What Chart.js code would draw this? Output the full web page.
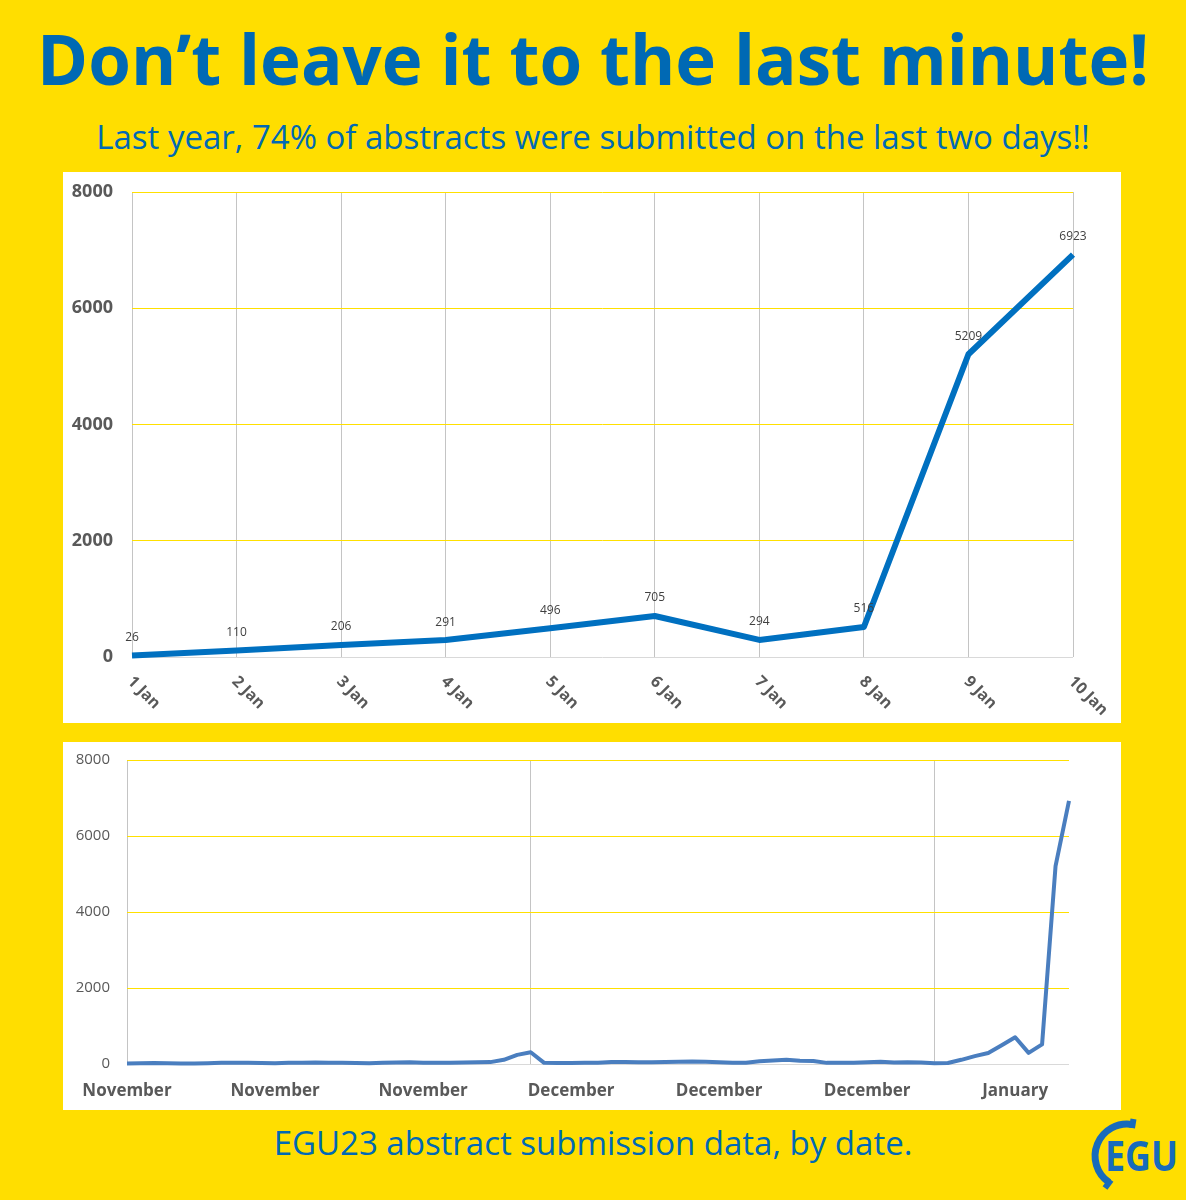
<!DOCTYPE html>
<html>
<head>
<meta charset="utf-8">
<script src="https://cdn.jsdelivr.net/npm/chart.js@4.4.1/dist/chart.umd.min.js"></script>
<style>
  body { margin: 0; width: 1186px; height: 1200px; background: #FFDE00; position: relative; overflow: hidden; font-family: 'Open Sans', sans-serif; }
  .txt { position: absolute; left: 0; width: 1186px; text-align: center; color: #0069B4; line-height: 1; white-space: nowrap; }
  #title { top: 24px; font-size: 69px; font-weight: bold; }
  #subtitle { top: 120px; font-size: 33px; }
  #footer { top: 1126px; font-size: 33px; }
  .panel { position: absolute; left: 63px; width: 1058px; background: #fff; }
  canvas { display: block; }
  #logo { position: absolute; left: 1080px; top: 1110px; }
</style>
</head>
<body>
<div id="title" class="txt">Don’t leave it to the last minute!</div>
<div id="subtitle" class="txt">Last year, 74% of abstracts were submitted on the last two days!!</div>

<div class="panel" style="top:172px; height:551px;"><canvas id="topChart" width="1058" height="551"></canvas></div>
<div class="panel" style="top:742px; height:368px;"><canvas id="bottomChart" width="1058" height="368"></canvas></div>

<div id="footer" class="txt">EGU23 abstract submission data, by date.</div>

<svg id="logo" width="106" height="90" viewBox="0 0 106 90">
  <path d="M52.6 14.5 A32 32 0 0 0 29.1 72.5" fill="none" stroke="#176BBB" stroke-width="7"/>
  <line x1="53.5" y1="9" x2="52" y2="18" stroke="#176BBB" stroke-width="6"/>
  <line x1="25" y1="78" x2="31" y2="70" stroke="#176BBB" stroke-width="6"/>
  <text x="25" y="61" font-family="Open Sans" font-weight="bold" font-size="42" fill="#176BBB" textLength="73" lengthAdjust="spacingAndGlyphs">EGU</text>
</svg>

<script>
// daily abstract submissions, last 10 days before the deadline
const topLabels = ['1 Jan', '2 Jan', '3 Jan', '4 Jan', '5 Jan', '6 Jan', '7 Jan', '8 Jan', '9 Jan', '10 Jan'];
const topValues = [26, 110, 206, 291, 496, 705, 294, 516, 5209, 6923];

// whole submission period, one value per day
const novDaily = [15, 20, 25, 20, 15, 15, 20, 30, 35, 30, 25, 20, 30, 35, 40, 35, 30, 25, 20, 30,
                  40, 45, 35, 30, 35, 40, 45, 50, 110, 240];
const decDaily = [310, 30, 25, 25, 30, 35, 50, 55, 45, 45, 55, 60, 65, 60, 45, 30, 35, 70, 90, 110,
                  85, 80, 30, 30, 35, 45, 60, 40, 45, 40, 20];
const janDaily = topValues;

const yTicks = [0, 2000, 4000, 6000, 8000];
const labelEvery = 11;  // month label every 11 days
const gridEvery = 30;   // vertical line every 30 days

const bottomValues = [...novDaily, ...decDaily, ...janDaily];
const bottomLabels = [
  ...novDaily.map(() => 'November'),
  ...decDaily.map(() => 'December'),
  ...janDaily.map(() => 'January')
];

const grey = '#595959';
const hGrid = c => c.tick && c.tick.value === 0 ? '#d9d9d9' : '#FFE000';

// data labels + slanted day labels for the top chart
const topText = {
  id: 'topText',
  afterDatasetsDraw(chart) {
    const { ctx } = chart;
    const meta = chart.getDatasetMeta(0);
    ctx.save();
    ctx.fillStyle = '#404040';
    ctx.font = '12px "Open Sans"';
    ctx.textAlign = 'center';
    ctx.textBaseline = 'middle';
    meta.data.forEach((pt, i) => ctx.fillText(String(topValues[i]), pt.x, pt.y - 18));
    ctx.restore();
  },
  afterDraw(chart) {
    const { ctx, chartArea } = chart;
    const xs = chart.scales.x;
    ctx.save();
    ctx.fillStyle = grey;
    ctx.font = 'bold 16px "Open Sans"';
    ctx.textAlign = 'left';
    ctx.textBaseline = 'middle';
    topLabels.forEach((lab, i) => {
      ctx.save();
      ctx.translate(xs.getPixelForValue(i) - 2, chartArea.bottom + 22);
      ctx.rotate(Math.PI / 4);
      ctx.fillText(lab, 0, 0);
      ctx.restore();
    });
    ctx.restore();
  }
};

new Chart(document.getElementById('topChart'), {
  type: 'line',
  data: {
    labels: topLabels,
    datasets: [{
      data: topValues,
      borderColor: '#0070C0',
      borderWidth: 6,
      pointRadius: 0,
      tension: 0,
      borderJoinStyle: 'round',
      clip: 10
    }]
  },
  options: {
    responsive: false,
    animation: false,
    layout: { padding: { top: 20, right: 48, left: 0, bottom: 0 } },
    plugins: { legend: { display: false }, tooltip: { enabled: false } },
    scales: {
      x: {
        grid: { color: '#c4c4c4', drawTicks: false },
        border: { display: false },
        ticks: { display: false },
        afterFit: s => { s.height = 66; s.paddingLeft = 0; s.paddingRight = 0; }
      },
      y: {
        min: 0,
        max: 8000,
        afterBuildTicks: s => { s.ticks = yTicks.map(v => ({ value: v })); },
        ticks: { padding: 19, color: grey, font: { family: 'Open Sans', size: 18, weight: 'bold' }, callback: v => String(v) },
        grid: { color: hGrid, drawTicks: false },
        border: { display: false },
        afterFit: s => { s.width = 69; s.paddingTop = 0; s.paddingBottom = 0; }
      }
    }
  },
  plugins: [topText]
});

new Chart(document.getElementById('bottomChart'), {
  type: 'line',
  data: {
    labels: bottomLabels,
    datasets: [{
      data: bottomValues,
      borderColor: '#4A7EBF',
      borderWidth: 4,
      pointRadius: 0,
      tension: 0,
      borderJoinStyle: 'round',
      clip: 8
    }]
  },
  options: {
    responsive: false,
    animation: false,
    layout: { padding: { top: 18, right: 52, left: 0, bottom: 0 } },
    plugins: { legend: { display: false }, tooltip: { enabled: false } },
    scales: {
      x: {
        grid: { color: c => c.index % gridEvery === 0 ? '#c4c4c4' : 'rgba(0,0,0,0)', drawTicks: false },
        border: { display: false },
        ticks: {
          autoSkip: false,
          maxRotation: 0,
          padding: 17,
          color: grey,
          font: { family: 'Open Sans', size: 17, weight: 'bold' },
          callback: (v, i) => i % labelEvery === 0 ? bottomLabels[i] : ''
        },
        afterFit: s => { s.height = 46; s.paddingLeft = 0; s.paddingRight = 0; }
      },
      y: {
        min: 0,
        max: 8000,
        afterBuildTicks: s => { s.ticks = yTicks.map(v => ({ value: v })); },
        ticks: { padding: 17, color: grey, font: { family: 'Open Sans', size: 15 }, callback: v => String(v) },
        grid: { color: hGrid, drawTicks: false },
        border: { display: false },
        afterFit: s => { s.width = 64; s.paddingTop = 0; s.paddingBottom = 0; }
      }
    }
  }
});
</script>
</body>
</html>
